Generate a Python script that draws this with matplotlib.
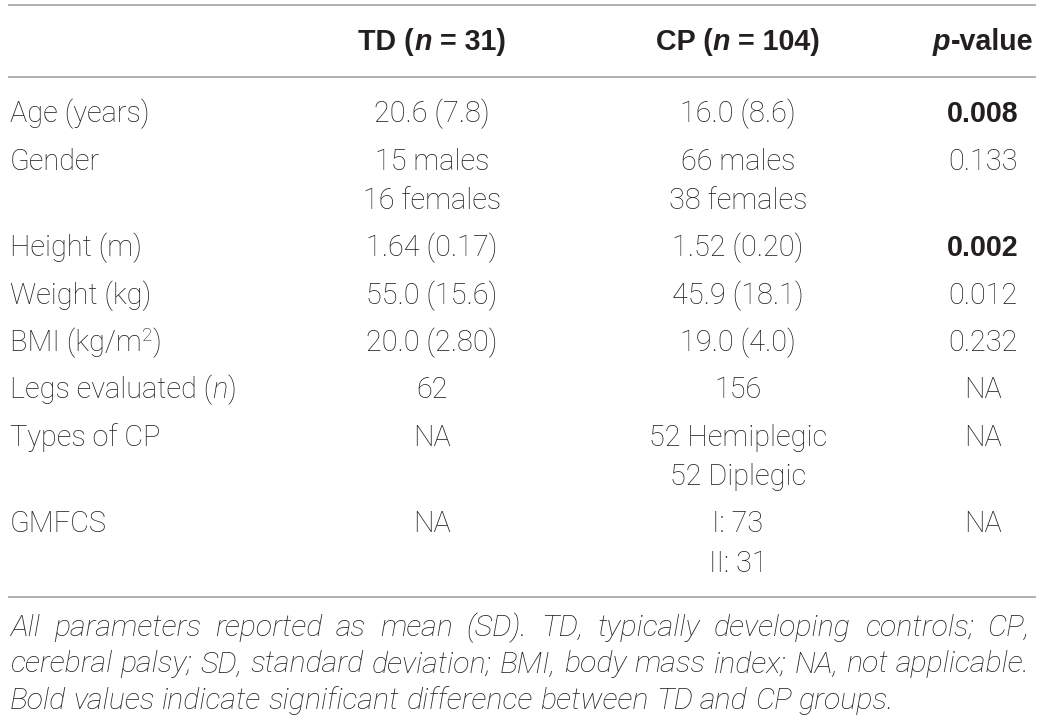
import re
import matplotlib
matplotlib.use('Agg')
import matplotlib.pyplot as plt
from matplotlib import font_manager as fm

# ---------------- data ----------------
headers = ["TD (_n_ = 31)", "CP (_n_ = 104)", "_p_-value"]
labels = ["Age (years)", "Gender", "Height (m)", "Weight (kg)", "BMI (kg/m^2^)",
          "Legs evaluated (_n_)", "Types of CP", "GMFCS"]
td_vals = [["20.6 (7.8)"], ["15 males", "16 females"], ["1.64 (0.17)"], ["55.0 (15.6)"],
           ["20.0 (2.80)"], ["62"], ["NA"], ["NA"]]
cp_vals = [["16.0 (8.6)"], ["66 males", "38 females"], ["1.52 (0.20)"], ["45.9 (18.1)"],
           ["19.0 (4.0)"], ["156"], ["52 Hemiplegic", "52 Diplegic"], ["I: 73", "II: 31"]]
p_vals = ["0.008", "0.133", "0.002", "0.012", "0.232", "NA", "NA", "NA"]
p_bold = [True, False, True, False, False, False, False, False]
footnote = ["All parameters reported as mean (SD). TD, typically developing controls; CP,",
            "cerebral palsy; SD, standard deviation; BMI, body mass index; NA, not applicable.",
            "Bold values indicate significant difference between TD and CP groups."]

# ---------------- setup ----------------
W, H = 1042, 721
fig = plt.figure(figsize=(W / 100, H / 100), dpi=100)
ax = fig.add_axes([0, 0, 1, 1])
ax.set_xlim(0, W)
ax.set_ylim(H, 0)
ax.axis('off')
renderer = fig.canvas.get_renderer()

available = {f.name for f in fm.fontManager.ttflist}


def pick(*names):
    for n in names:
        if n in available:
            return n
    return 'DejaVu Sans'


MAIN = pick('Roboto', 'Liberation Sans', 'DejaVu Sans')
BOLD = pick('Liberation Sans', 'Roboto', 'DejaVu Sans')
NOTE = pick('Roboto', 'Liberation Sans', 'DejaVu Sans')

TXT = '#231f20'
LINE = '#9b9b9b'
SIZE = 20.8
BSIZE = 20.6


def props(style, bold=False):
    if bold:
        p = dict(family=BOLD, weight='bold')
    else:
        p = dict(family=MAIN, weight='light')
    if style in ('it',):
        p['style'] = 'italic'
    return p


def meas(s, pr, size):
    t = ax.text(0, 0, s, fontsize=size, **pr)
    w = t.get_window_extent(renderer).width
    t.remove()
    return w


def adv(s, pr, size):
    return meas('|' + s + '|', pr, size) - meas('||', pr, size)


def parse(s):
    parts = re.split(r'(_[^_]+_|\^[^^]+\^)', s)
    out = []
    for p in parts:
        if not p:
            continue
        if p.startswith('_'):
            out.append((p[1:-1], 'it'))
        elif p.startswith('^'):
            out.append((p[1:-1], 'sup'))
        else:
            out.append((p, 'reg'))
    return out


def rich(x, y, s, ha='left', bold=False):
    size = BSIZE if bold else SIZE
    runs = parse(s)
    items = []
    total = 0
    for txt, st in runs:
        sz = size * 0.66 if st == 'sup' else size
        pr = props('it' if st == 'it' else 'reg', bold)
        lead = len(txt) - len(txt.lstrip(' '))
        trail = len(txt) - len(txt.rstrip(' '))
        core = txt.strip(' ')
        sp = adv(' ', pr, sz)
        w = adv(core, pr, sz)
        items.append((core, pr, sz, st, lead * sp, w, trail * sp))
        total += lead * sp + w + trail * sp
    if ha == 'center':
        cx = x - total / 2
    elif ha == 'right':
        cx = x - total
    else:
        cx = x
    for core, pr, sz, st, l, w, tr in items:
        cx += l
        yy = y - (size * 100 / 72) * 0.36 if st == 'sup' else y
        ax.text(cx, yy, core, fontsize=sz, color=TXT, ha='left', va='baseline', **pr)
        cx += w + tr


# ---------------- rules ----------------
X0, X1 = 8, 1036
for yl in (5, 77, 597):
    ax.plot([X0, X1], [yl, yl], color=LINE, lw=1.1, solid_capstyle='butt')

# ---------------- header ----------------
LABEL_X = 10
TD_X = 432
CP_X = 738
P_X = 983
HY = 50
rich(TD_X, HY, headers[0], ha='center', bold=True)
rich(CP_X, HY, headers[1], ha='center', bold=True)
rich(P_X, HY, headers[2], ha='center', bold=True)

# ---------------- body ----------------
y = 122.5
ROW_GAP = 47.3
INNER = 39.3
for i, lab in enumerate(labels):
    rich(LABEL_X, y, lab, ha='left')
    for k, v in enumerate(td_vals[i]):
        rich(TD_X, y + k * INNER, v, ha='center')
    for k, v in enumerate(cp_vals[i]):
        rich(CP_X, y + k * INNER, v, ha='center')
    rich(P_X, y, p_vals[i], ha='center', bold=p_bold[i])
    nlines = max(len(td_vals[i]), len(cp_vals[i]))
    y += (nlines - 1) * INNER + ROW_GAP

# ---------------- footnote (justified) ----------------
FL, FR = 10, 1030
npr = dict(family=NOTE, style='italic', weight='light')
# size the note so that the densest line fills the width with plain spaces
base = 20.0
words2 = footnote[1].split()
nat = sum(adv(w, npr, base) for w in words2) + (len(words2) - 1) * adv(' ', npr, base)
NOTE_SIZE = base * (FR - FL) / nat * 0.99
fy = 636
for li, line in enumerate(footnote):
    words = line.split()
    ws = [adv(w, npr, NOTE_SIZE) for w in words]
    if li < len(footnote) - 1:
        gap = (FR - FL - sum(ws)) / (len(words) - 1)
    else:
        gap = adv(' ', npr, NOTE_SIZE)
    x = FL
    for w, wd in zip(words, ws):
        ax.text(x, fy, w, fontsize=NOTE_SIZE, color=TXT, ha='left', va='baseline', **npr)
        x += wd + gap
    fy += 36.5

fig.savefig('out.png', dpi=100, facecolor='white')
